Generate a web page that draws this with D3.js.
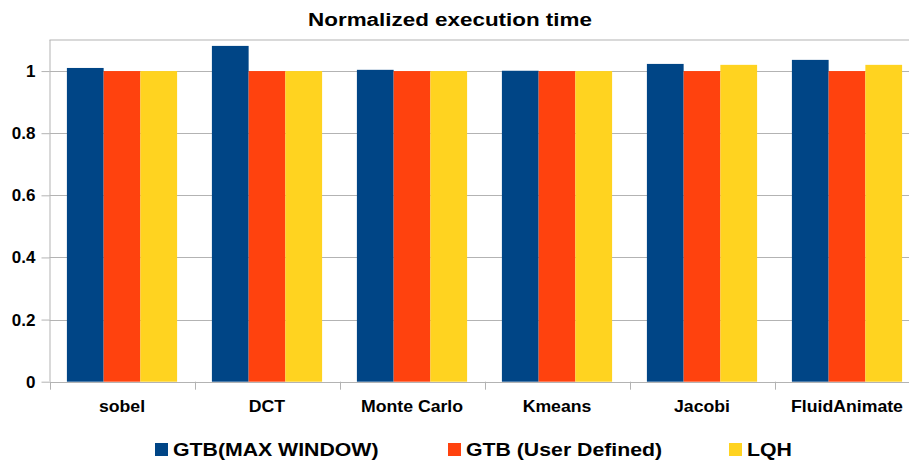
<!DOCTYPE html>
<html>
<head>
<meta charset="utf-8">
<script src="https://cdn.jsdelivr.net/npm/d3@7"></script>
<style>
  body { margin: 0; background: #fff; }
  svg { display: block; font-family: "Liberation Sans", Arial, sans-serif; }
</style>
</head>
<body>
<svg width="909" height="461"></svg>
<script>
// chart data
const categories = ["sobel", "DCT", "Monte Carlo", "Kmeans", "Jacobi", "FluidAnimate"];
const seriesNames = ["GTB(MAX WINDOW)", "GTB (User Defined)", "LQH"];
const gtbMax = [1.010, 1.081, 1.004, 1.001, 1.023, 1.036];
const gtbUser = [1.0, 1.0, 1.0, 1.0, 1.0, 1.0];
const lqh = [1.0, 1.0, 1.0, 1.0, 1.020, 1.020];
const yTicks = [0, 0.2, 0.4, 0.6, 0.8, 1];
const colors = ["#004586", "#ff420e", "#ffd320"];

const series = [gtbMax, gtbUser, lqh];

const svg = d3.select("svg");

const margin = { top: 40, left: 49.5 },
  plotW = 870,
  plotH = 341.7;

const x = d3.scaleBand()
  .domain(categories)
  .range([margin.left, margin.left + plotW])
  .paddingInner(0.24)
  .paddingOuter(0.12);

const xs = d3.scaleBand()
  .domain(d3.range(series.length))
  .range([0, x.bandwidth()]);

const y = d3.scaleLinear()
  .domain([0, 1.1])
  .range([margin.top + plotH, margin.top]);

// text in the original looks a bit wider than Liberation Sans
function wideText(g, px, py, str, size, sx, anchor) {
  return g.append("text")
    .attr("transform", "translate(" + px + "," + py + ") scale(" + sx + ",1)")
    .attr("text-anchor", anchor || "start")
    .style("font-size", size + "px")
    .style("font-weight", "bold")
    .text(str);
}

// title
wideText(svg, 450, 26, "Normalized execution time", 19, 1.18, "middle");

// plot frame (top edge)
svg.append("line")
  .attr("x1", margin.left).attr("x2", margin.left + plotW)
  .attr("y1", y(1.1)).attr("y2", y(1.1))
  .attr("stroke", "#b3b3b3");

// y grid + axis
const yAxis = svg.append("g")
  .attr("transform", "translate(" + margin.left + ",0)")
  .call(d3.axisLeft(y).tickValues(yTicks)
    .tickFormat(d => d3.format("")(d))
    .tickSize(8).tickPadding(6));
yAxis.select(".domain").attr("stroke", "#b3b3b3")
  .attr("d", "M0.5," + y(0) + "V" + y(1.1));
yAxis.selectAll(".tick line").attr("stroke", "#b3b3b3");
yAxis.selectAll(".tick text")
  .style("font-size", "17px").style("font-weight", "bold")
  .style("font-family", "Liberation Sans, Arial, sans-serif")
  .attr("fill", "#000");

svg.append("g")
  .selectAll("line")
  .data(yTicks)
  .enter()
  .append("line")
  .attr("x1", margin.left)
  .attr("x2", margin.left + plotW)
  .attr("y1", d => Math.round(y(d)) + 0.5)
  .attr("y2", d => Math.round(y(d)) + 0.5)
  .attr("stroke", "#b3b3b3");

// x axis boundary ticks
const step = x.step();
const bounds = d3.range(categories.length + 1).map(i => margin.left + i * step);
svg.append("g")
  .selectAll("line")
  .data(bounds)
  .enter()
  .append("line")
  .attr("x1", d => Math.round(d) + 0.5)
  .attr("x2", d => Math.round(d) + 0.5)
  .attr("y1", y(0))
  .attr("y2", y(0) + 8)
  .attr("stroke", "#b3b3b3");

// bars
series.forEach((vals, si) => {
  svg.append("g")
    .selectAll("rect")
    .data(vals)
    .enter()
    .append("rect")
    .attr("x", (d, i) => x(categories[i]) + xs(si))
    .attr("y", d => y(d))
    .attr("width", xs.bandwidth())
    .attr("height", d => y(0) - y(d))
    .attr("fill", colors[si]);
});

// category labels
const catG = svg.append("g");
categories.forEach(c => {
  wideText(catG, x(c) + x.bandwidth() / 2, 412, c, 17, 1.04, "middle");
});

// legend
const legendX = [155, 448, 729];
const legend = svg.append("g");
seriesNames.forEach((name, i) => {
  legend.append("rect")
    .attr("x", legendX[i])
    .attr("y", 443)
    .attr("width", 13)
    .attr("height", 13)
    .attr("fill", colors[i]);
  wideText(legend, legendX[i] + 18, 456, name, 19, 1.12);
});
</script>
</body>
</html>
